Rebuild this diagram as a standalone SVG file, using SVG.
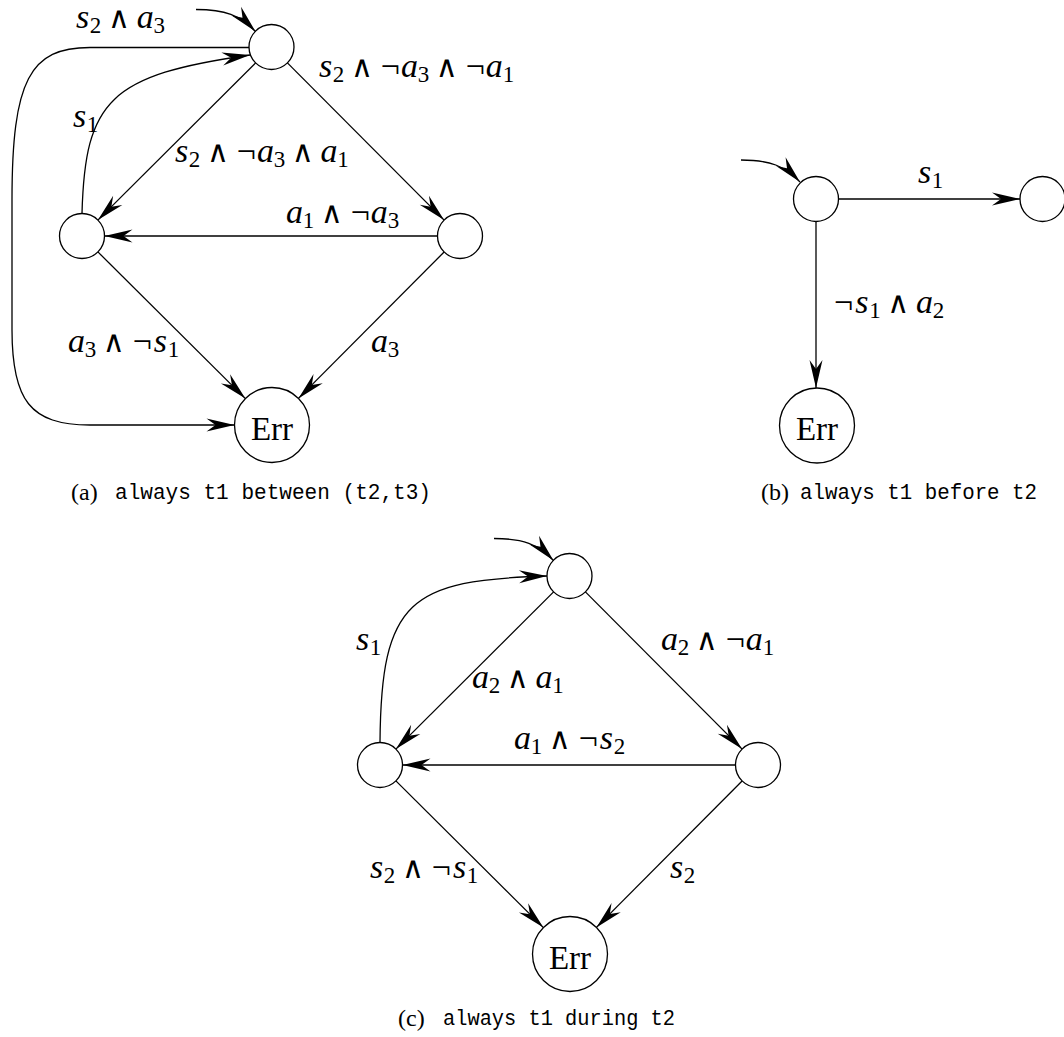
<svg xmlns="http://www.w3.org/2000/svg" width="1064" height="1037" viewBox="0 0 1064 1037">
<style>
  .node { fill: #fff; stroke: #000; stroke-width: 1.3; }
  .edge { fill: none; stroke: #000; stroke-width: 1.3; marker-end: url(#arr); }
  .lbl { font-family: "Liberation Serif", "DejaVu Serif", serif; font-size: 34px; fill: #000; text-anchor: middle; }
  .v { font-style: italic; }
  .sub { font-size: 23px; }
  .op { font-family: "Liberation Serif", "Inter", "DejaVu Serif", serif; font-weight: 300; font-size: 30px; }
  .err { font-family: "Liberation Serif", serif; font-size: 33px; text-anchor: middle; fill: #000; }
  .cap { font-family: "Liberation Serif", serif; font-size: 24px; fill: #000; }
  .mono { font-family: "Liberation Mono", monospace; font-size: 21.5px; fill: #000; }
</style>
<defs>
  <marker id="arr" viewBox="-30 -8 32 16" refX="0" refY="0" markerWidth="32" markerHeight="16" markerUnits="userSpaceOnUse" orient="auto">
    <path d="M0,0 L-28,-6.5 L-19,0 L-28,6.5 Z" fill="#000"/>
  </marker>
</defs>

<!-- Panel (a) nodes -->
<g id="a-top"><circle class="node" cx="271.5" cy="47" r="22.5"/></g>
<g id="a-left"><circle class="node" cx="82" cy="236" r="22.5"/></g>
<g id="a-right"><circle class="node" cx="460" cy="236" r="22.5"/></g>
<g id="a-err"><circle class="node" cx="272" cy="425" r="37.5"/><text class="err" x="272" y="440">Err</text></g>

<!-- Panel (b) nodes -->
<g id="b-start"><circle class="node" cx="816" cy="199" r="22.5"/></g>
<g id="b-right"><circle class="node" cx="1042.5" cy="199" r="22.5"/></g>
<g id="b-err"><circle class="node" cx="817" cy="425.5" r="37.5"/><text class="err" x="817" y="440">Err</text></g>

<!-- Panel (c) nodes -->
<g id="c-top"><circle class="node" cx="569.5" cy="576" r="22.5"/></g>
<g id="c-left"><circle class="node" cx="380" cy="765" r="22.5"/></g>
<g id="c-right"><circle class="node" cx="758" cy="765" r="22.5"/></g>
<g id="c-err"><circle class="node" cx="570" cy="954" r="37.5"/><text class="err" x="570" y="969">Err</text></g>

<g id="connectors">
  <!-- (a) -->
  <path class="edge" d="M196,9.5 C225,9.5 240,15 255.5,31.5"/>
  <path class="edge" d="M287.4,62.9 L444.1,220.1"/>
  <path class="edge" d="M255.6,62.9 L97.9,220.1"/>
  <path class="edge" d="M437.5,236 L104.5,236"/>
  <path class="edge" d="M97.9,251.9 L245.4,398.6"/>
  <path class="edge" d="M444.1,252 L298.4,398.4"/>
  <path class="edge" d="M82,213.5 C85,100 110,75 250,55"/>
  <path class="edge" d="M249,47.5 L90,47.5 C30,47.5 12,80 12,200 L12,330 C12,400 30,425 90,425 L234.5,425"/>
  <!-- (b) -->
  <path class="edge" d="M741,160 C770,160 785,166 800,182"/>
  <path class="edge" d="M838.5,199 L1020,199"/>
  <path class="edge" d="M816,221.5 L816,388"/>
  <!-- (c) -->
  <path class="edge" d="M494,538.5 C523,538.5 538,544 553.5,560.5"/>
  <path class="edge" d="M585.4,591.9 L742.1,749.1"/>
  <path class="edge" d="M553.6,591.9 L395.9,749.1"/>
  <path class="edge" d="M735.5,765 L402.5,765"/>
  <path class="edge" d="M395.9,780.9 L543.4,927.6"/>
  <path class="edge" d="M742.1,781 L596.4,927.4"/>
  <path class="edge" d="M380,742.5 C381,600 410,580 547,576"/>
</g>

<g id="labels">
  <!-- s2 ∧ a3 -->
  <text class="lbl"><tspan class="v" x="82.5" y="28">s</tspan><tspan class="sub" x="95.6" y="33">2</tspan><tspan class="op" x="118.95" y="28">∧</tspan><tspan class="v" x="145.15" y="28">a</tspan><tspan class="sub" x="159.2" y="33">3</tspan></text>
  <!-- s2 ∧ ¬a3 ∧ ¬a1 -->
  <text class="lbl"><tspan class="v" x="325.5" y="77">s</tspan><tspan class="sub" x="338.6" y="82">2</tspan><tspan class="op" x="361.95" y="77">∧</tspan><tspan x="390.35" y="77">¬</tspan><tspan class="v" x="409.45" y="77">a</tspan><tspan class="sub" x="423.5" y="82">3</tspan><tspan class="op" x="446.85" y="77">∧</tspan><tspan x="475.25" y="77">¬</tspan><tspan class="v" x="494.35" y="77">a</tspan><tspan class="sub" x="508.4" y="82">1</tspan></text>
  <!-- s1 -->
  <text class="lbl"><tspan class="v" x="79.5" y="127">s</tspan><tspan class="sub" x="92.6" y="132">1</tspan></text>
  <!-- s2 ∧ ¬a3 ∧ a1 -->
  <text class="lbl"><tspan class="v" x="181.5" y="162">s</tspan><tspan class="sub" x="194.6" y="167">2</tspan><tspan class="op" x="217.95" y="162">∧</tspan><tspan x="246.35" y="162">¬</tspan><tspan class="v" x="265.45" y="162">a</tspan><tspan class="sub" x="279.5" y="167">3</tspan><tspan class="op" x="302.85" y="162">∧</tspan><tspan class="v" x="329.05" y="162">a</tspan><tspan class="sub" x="343.1" y="167">1</tspan></text>
  <!-- a1 ∧ ¬a3 -->
  <text class="lbl"><tspan class="v" x="294.45" y="223">a</tspan><tspan class="sub" x="308.5" y="228">1</tspan><tspan class="op" x="331.85" y="223">∧</tspan><tspan x="360.25" y="223">¬</tspan><tspan class="v" x="379.35" y="223">a</tspan><tspan class="sub" x="393.4" y="228">3</tspan></text>
  <!-- a3 ∧ ¬s1 -->
  <text class="lbl"><tspan class="v" x="76.45" y="352">a</tspan><tspan class="sub" x="90.5" y="357">3</tspan><tspan class="op" x="113.85" y="352">∧</tspan><tspan x="142.25" y="352">¬</tspan><tspan class="v" x="160.4" y="352">s</tspan><tspan class="sub" x="173.5" y="357">1</tspan></text>
  <!-- a3 -->
  <text class="lbl"><tspan class="v" x="379.45" y="352">a</tspan><tspan class="sub" x="393.5" y="357">3</tspan></text>

  <!-- (b) s1 -->
  <text class="lbl"><tspan class="v" x="924.5" y="183">s</tspan><tspan class="sub" x="937.6" y="188">1</tspan></text>
  <!-- ¬s1 ∧ a2 -->
  <text class="lbl"><tspan x="843.65" y="313">¬</tspan><tspan class="v" x="861.8" y="313">s</tspan><tspan class="sub" x="874.9" y="318">1</tspan><tspan class="op" x="898.25" y="313">∧</tspan><tspan class="v" x="924.45" y="313">a</tspan><tspan class="sub" x="938.5" y="318">2</tspan></text>

  <!-- (c) s1 -->
  <text class="lbl"><tspan class="v" x="362.5" y="650">s</tspan><tspan class="sub" x="375.6" y="655">1</tspan></text>
  <!-- a2 ∧ a1 -->
  <text class="lbl"><tspan class="v" x="480.45" y="688">a</tspan><tspan class="sub" x="494.5" y="693">2</tspan><tspan class="op" x="517.85" y="688">∧</tspan><tspan class="v" x="544.05" y="688">a</tspan><tspan class="sub" x="558.1" y="693">1</tspan></text>
  <!-- a2 ∧ ¬a1 -->
  <text class="lbl"><tspan class="v" x="669.45" y="650">a</tspan><tspan class="sub" x="683.5" y="655">2</tspan><tspan class="op" x="706.85" y="650">∧</tspan><tspan x="735.25" y="650">¬</tspan><tspan class="v" x="754.35" y="650">a</tspan><tspan class="sub" x="768.4" y="655">1</tspan></text>
  <!-- a1 ∧ ¬s2 -->
  <text class="lbl"><tspan class="v" x="522.45" y="749">a</tspan><tspan class="sub" x="536.5" y="754">1</tspan><tspan class="op" x="559.85" y="749">∧</tspan><tspan x="588.25" y="749">¬</tspan><tspan class="v" x="606.4" y="749">s</tspan><tspan class="sub" x="619.5" y="754">2</tspan></text>
  <!-- s2 ∧ ¬s1 -->
  <text class="lbl"><tspan class="v" x="376.5" y="878">s</tspan><tspan class="sub" x="389.6" y="883">2</tspan><tspan class="op" x="412.95" y="878">∧</tspan><tspan x="441.35" y="878">¬</tspan><tspan class="v" x="459.5" y="878">s</tspan><tspan class="sub" x="472.6" y="883">1</tspan></text>
  <!-- s2 -->
  <text class="lbl"><tspan class="v" x="676.5" y="878">s</tspan><tspan class="sub" x="689.6" y="883">2</tspan></text>
</g>

<g id="captions">
  <text class="cap" x="71" y="500">(a)</text>
  <text class="mono" x="115" y="499" textLength="316" lengthAdjust="spacingAndGlyphs">always t1 between (t2,t3)</text>
  <text class="cap" x="761" y="500">(b)</text>
  <text class="mono" x="800" y="499" textLength="237" lengthAdjust="spacingAndGlyphs">always t1 before t2</text>
  <text class="cap" x="398" y="1026">(c)</text>
  <text class="mono" x="443" y="1025" textLength="232" lengthAdjust="spacingAndGlyphs">always t1 during t2</text>
</g>
</svg>
